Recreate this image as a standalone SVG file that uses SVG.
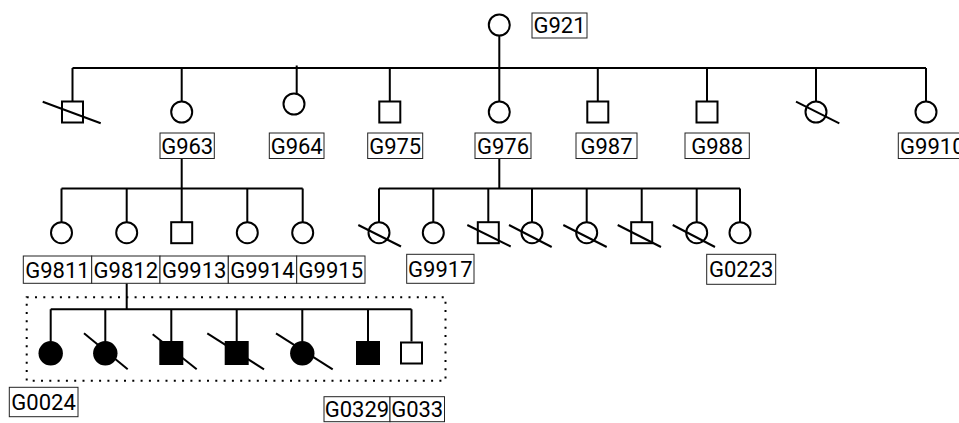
<svg xmlns="http://www.w3.org/2000/svg" width="959" height="423" viewBox="0 0 959 423">
<style>
.ln{stroke:#000;stroke-width:2;fill:none;stroke-linecap:butt}
.sym{stroke:#000;stroke-width:2;fill:#fff}
.aff{fill:#000;stroke:none}
.sl{stroke:#000;stroke-width:2}
.lb{fill:#fff;stroke:#222;stroke-width:1}
.tx{font-family:Roboto,"Liberation Sans",Arial,sans-serif;font-size:22px;fill:#000;text-anchor:middle}
.dot{fill:none;stroke:#000;stroke-width:2;stroke-dasharray:2 6.3}
</style>
<rect width="959" height="423" fill="#fff"/>
<g id="connectors">
<path class="ln" d="M499.3,35.5V101.5 M72.5,68H926 M72.5,68V101.5 M181.7,68V101.5 M296.7,65.5V93.5 M389.8,68V101.5 M597.8,68V101.5 M707,68V101.5 M816,68V101.5 M926,68V101.5"/>
<path class="ln" d="M181.7,158.5V188.5 M61.5,188.5H302.7 M61.5,188.5V222 M126.7,188.5V222 M181.7,188.5V222 M247.3,188.5V222 M302.7,188.5V222"/>
<path class="ln" d="M499.3,158.5V188.5 M379,188.5H740 M379,188.5V222 M433.3,188.5V222 M488.3,188.5V222 M532,188.5V222 M586.7,188.5V222 M641.7,188.5V222 M696.7,188.5V222 M740,188.5V222"/>
<path class="ln" d="M126.7,283.3V309.3 M50.7,309.3H411.5 M50.7,309.3V341.5 M105.3,309.3V341.5 M171.3,309.3V341.5 M236.7,309.3V341.5 M302.3,309.3V341.5 M368,309.3V341.5 M411.5,309.3V341.5"/>
</g>
<rect id="family-box" class="dot" x="26.7" y="297.3" width="418.8" height="83.4"/>
<g id="G921"><circle class="sym" cx="499.3" cy="25" r="10.5"/><rect class="lb" x="532" y="13" width="55" height="25"/><text class="tx" x="559.5" y="33.3">G921</text></g>
<g id="n1"><rect class="sym" x="62" y="101.5" width="21" height="21"/><line class="sl" x1="42.7" y1="101.7" x2="100.7" y2="123.3"/></g>
<g id="G963"><circle class="sym" cx="181.7" cy="112" r="10.5"/><rect class="lb" x="160" y="133" width="54.3" height="25.5"/><text class="tx" x="187.2" y="153.6">G963</text></g>
<g id="G964"><circle class="sym" cx="294" cy="104" r="10.5"/><rect class="lb" x="269.3" y="133" width="54.7" height="25.5"/><text class="tx" x="296.7" y="153.6">G964</text></g>
<g id="G975"><rect class="sym" x="379.3" y="101.5" width="21" height="21"/><rect class="lb" x="367.7" y="133" width="55" height="25.5"/><text class="tx" x="395.2" y="153.6">G975</text></g>
<g id="G976"><circle class="sym" cx="499.3" cy="112" r="10.5"/><rect class="lb" x="475" y="133" width="56" height="25.5"/><text class="tx" x="503" y="153.6">G976</text></g>
<g id="G987"><rect class="sym" x="587.3" y="101.5" width="21" height="21"/><rect class="lb" x="576" y="133" width="61" height="25.5"/><text class="tx" x="606.5" y="153.6">G987</text></g>
<g id="G988"><rect class="sym" x="696.5" y="101.5" width="21" height="21"/><rect class="lb" x="685" y="133" width="64.3" height="25.5"/><text class="tx" x="717.2" y="153.6">G988</text></g>
<g id="n2"><circle class="sym" cx="816" cy="112" r="10.5"/><line class="sl" x1="796" y1="101.7" x2="839.3" y2="123.3"/></g>
<g id="G9910"><circle class="sym" cx="926" cy="112" r="10.5"/><rect class="lb" x="898.3" y="133" width="68" height="25.5"/><text class="tx" x="932.3" y="153.6">G9910</text></g>
<g id="G9811"><circle class="sym" cx="61.5" cy="232.7" r="10.5"/><rect class="lb" x="23.3" y="256" width="68.4" height="27.3"/><text class="tx" x="57.5" y="277.5">G9811</text></g>
<g id="G9812"><circle class="sym" cx="126.7" cy="232.7" r="10.5"/><rect class="lb" x="91.7" y="256" width="68.3" height="27.3"/><text class="tx" x="125.8" y="277.5">G9812</text></g>
<g id="G9913"><rect class="sym" x="171.2" y="222.2" width="21" height="21"/><rect class="lb" x="160" y="256" width="68.3" height="27.3"/><text class="tx" x="194.2" y="277.5">G9913</text></g>
<g id="G9914"><circle class="sym" cx="247.3" cy="232.7" r="10.5"/><rect class="lb" x="228.3" y="256" width="68.4" height="27.3"/><text class="tx" x="262.5" y="277.5">G9914</text></g>
<g id="G9915"><circle class="sym" cx="302.7" cy="232.7" r="10.5"/><rect class="lb" x="296.7" y="256" width="68.3" height="27.3"/><text class="tx" x="330.8" y="277.5">G9915</text></g>
<g id="n3"><circle class="sym" cx="379" cy="232.7" r="10.5"/><line class="sl" x1="358.3" y1="225" x2="401" y2="246.5"/></g>
<g id="G9917"><circle class="sym" cx="433.3" cy="232.7" r="10.5"/><rect class="lb" x="406.7" y="254.3" width="67.3" height="29"/><text class="tx" x="440.3" y="276.6">G9917</text></g>
<g id="n4"><rect class="sym" x="477.8" y="222.2" width="21" height="21"/><line class="sl" x1="467.3" y1="225" x2="510.7" y2="246.5"/></g>
<g id="n5"><circle class="sym" cx="532" cy="232.7" r="10.5"/><line class="sl" x1="509" y1="225" x2="551.7" y2="247"/></g>
<g id="n6"><circle class="sym" cx="586.7" cy="232.7" r="10.5"/><line class="sl" x1="563.3" y1="225" x2="606.7" y2="247"/></g>
<g id="n7"><rect class="sym" x="631.2" y="222.2" width="21" height="21"/><line class="sl" x1="617.7" y1="225" x2="661" y2="247"/></g>
<g id="n8"><circle class="sym" cx="696.7" cy="232.7" r="10.5"/><line class="sl" x1="672.7" y1="225" x2="715" y2="247"/></g>
<g id="G0223"><circle class="sym" cx="740" cy="232.7" r="10.5"/><rect class="lb" x="706.7" y="254.3" width="69" height="30"/><text class="tx" x="741.2" y="277">G0223</text></g>
<g id="G0024"><circle class="aff" cx="50.7" cy="353.3" r="12.2"/><rect class="lb" x="9.3" y="387.3" width="68.7" height="29.4"/><text class="tx" x="43.6" y="409.8">G0024</text></g>
<g id="n9"><circle class="aff" cx="105.3" cy="353.3" r="12.2"/><line class="sl" x1="84" y1="333.3" x2="127.7" y2="369.3"/></g>
<g id="n10"><rect class="aff" x="159.3" y="341" width="24" height="24"/><line class="sl" x1="152.7" y1="334.3" x2="196.7" y2="369.3"/></g>
<g id="n11"><rect class="aff" x="224.7" y="341" width="24" height="24"/><line class="sl" x1="207.3" y1="333.3" x2="264" y2="369.3"/></g>
<g id="n12"><circle class="aff" cx="302.3" cy="353.3" r="12.2"/><line class="sl" x1="276" y1="333.3" x2="332.7" y2="369.3"/></g>
<g id="G0329"><rect class="aff" x="356" y="341" width="24" height="24"/><rect class="lb" x="324" y="396.7" width="66" height="25"/><text class="tx" x="357" y="417">G0329</text></g>
<g id="G033"><rect class="sym" x="401" y="342.5" width="21" height="21"/><rect class="lb" x="390" y="396.7" width="54.5" height="25"/><text class="tx" x="417.2" y="417">G033</text></g>
</svg>
